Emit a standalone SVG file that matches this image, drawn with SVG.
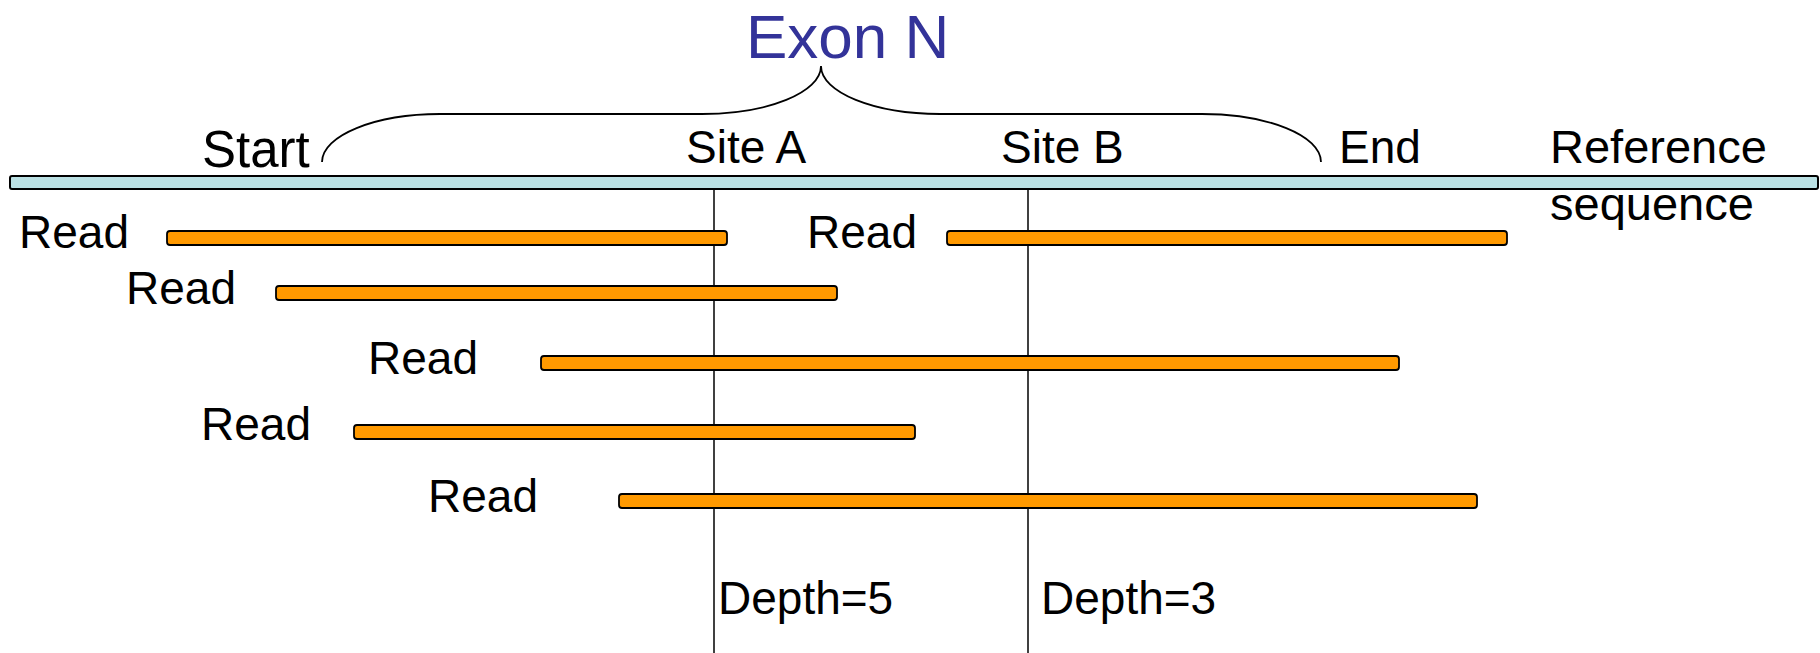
<svg xmlns="http://www.w3.org/2000/svg" width="1820" height="653" viewBox="0 0 1820 653">
  <style>
    .t { font-family: "Liberation Sans", Arial, sans-serif; fill: #000; font-size: 46px; }
    .read { fill: #ff9900; stroke: #000; stroke-width: 1.8; }
    .vline { stroke: #000; stroke-width: 1.5; fill: none; }
  </style>
  <rect width="1820" height="653" fill="#fff"/>
  <g id="title">
    <text x="746" y="58" style="font-family: 'Liberation Sans', Arial, sans-serif; font-size: 62px; fill: #333399;">Exon N</text>
  </g>
  <g id="brace">
    <path d="M 322,162 C 322,135.5 375,114 440,114 L 702,114 C 768,114 821,92.5 821,66 C 821,92.5 874,114 940,114 L 1202,114 C 1268,114 1321,135.5 1321,162" fill="none" stroke="#000" stroke-width="1.8"/>
  </g>
  <g id="labels">
    <text class="t" x="202" y="167" style="font-size:51px">Start</text>
    <text class="t" x="686" y="163">Site A</text>
    <text class="t" x="1001" y="163">Site B</text>
    <text class="t" x="1339" y="163">End</text>
    <text class="t" x="1550" y="163" style="font-size:47px">Reference</text>
    <text class="t" x="1550" y="220" style="font-size:47px">sequence</text>
  </g>
  <g id="connectors">
    <line class="vline" x1="714" y1="189" x2="714" y2="653"/>
    <line class="vline" x1="1028" y1="189" x2="1028" y2="653"/>
  </g>
  <g id="reference">
    <rect x="10" y="176" width="1808" height="13" rx="2" fill="#bae0e3" stroke="#000" stroke-width="2"/>
  </g>
  <g id="read1">
    <rect class="read" x="167" y="231" width="560" height="14" rx="3"/>
    <text class="t" x="19" y="248">Read</text>
  </g>
  <g id="read2">
    <rect class="read" x="947" y="231" width="560" height="14" rx="3"/>
    <text class="t" x="807" y="248">Read</text>
  </g>
  <g id="read3">
    <rect class="read" x="276" y="286" width="561" height="14" rx="3"/>
    <text class="t" x="126" y="304">Read</text>
  </g>
  <g id="read4">
    <rect class="read" x="541" y="356" width="858" height="14" rx="3"/>
    <text class="t" x="368" y="374">Read</text>
  </g>
  <g id="read5">
    <rect class="read" x="354" y="425" width="561" height="14" rx="3"/>
    <text class="t" x="201" y="440">Read</text>
  </g>
  <g id="read6">
    <rect class="read" x="619" y="494" width="858" height="14" rx="3"/>
    <text class="t" x="428" y="512">Read</text>
  </g>
  <g id="depths">
    <text class="t" x="718" y="614">Depth=5</text>
    <text class="t" x="1041" y="614">Depth=3</text>
  </g>
</svg>
